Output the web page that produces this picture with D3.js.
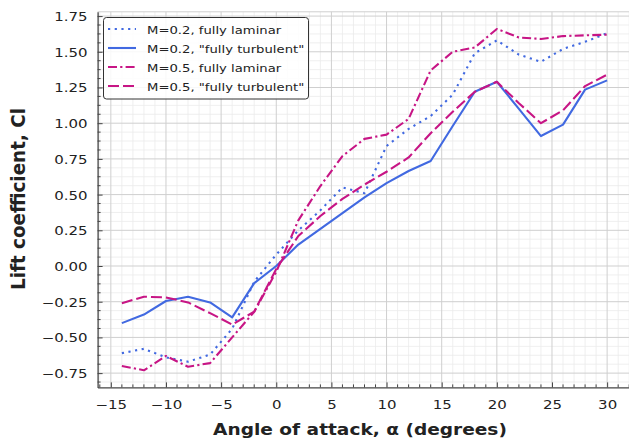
<!DOCTYPE html>
<html><head><meta charset="utf-8">
<script src="https://cdn.jsdelivr.net/npm/d3@7"></script>
<style>body{margin:0;background:#fff}svg{display:block}text{font-family:"DejaVu Sans",sans-serif}</style>
</head><body><svg id="c" width="629" height="442"></svg>
<script>
const alpha = [-14,-12,-10,-8,-6,-4,-2,0,2,4,6,8,10,12,14,16,18,20,22,24,26,28,30];
const m02Laminar   = [-0.61,-0.58,-0.64,-0.67,-0.62,-0.44,-0.11,0.08,0.25,0.39,0.55,0.51,0.84,0.96,1.05,1.20,1.49,1.58,1.48,1.43,1.52,1.57,1.63];
const m02Turbulent = [-0.40,-0.34,-0.245,-0.215,-0.255,-0.36,-0.12,0.00,0.15,0.26,0.37,0.48,0.58,0.665,0.735,0.98,1.22,1.29,1.10,0.91,0.99,1.235,1.30];
const m05Laminar   = [-0.70,-0.73,-0.63,-0.705,-0.68,-0.50,-0.32,-0.04,0.32,0.56,0.77,0.89,0.92,1.03,1.37,1.50,1.53,1.66,1.60,1.59,1.61,1.615,1.62];
const m05Turbulent = [-0.26,-0.215,-0.22,-0.255,-0.33,-0.41,-0.32,-0.02,0.21,0.35,0.47,0.57,0.66,0.76,0.93,1.08,1.22,1.29,1.14,1.00,1.09,1.26,1.34];
const seriesNames = ['M=0.2, fully laminar','M=0.2, "fully turbulent"','M=0.5, fully laminar','M=0.5, "fully turbulent"'];
const xTicks = [-15,-10,-5,0,5,10,15,20,25,30];
const yTicks = [-0.75,-0.5,-0.25,0,0.25,0.5,0.75,1.0,1.25,1.5,1.75];
const xLabel = 'Angle of attack, \u03b1 (degrees)';
const yLabel = 'Lift coefficient, Cl';

const series = [
  {name: seriesNames[0], values: m02Laminar,   color:'#4169e1', dash:'2.2,4.5'},
  {name: seriesNames[1], values: m02Turbulent, color:'#4169e1', dash:null},
  {name: seriesNames[2], values: m05Laminar,   color:'#c71585', dash:'9,3.2,2.2,3.2'},
  {name: seriesNames[3], values: m05Turbulent, color:'#c71585', dash:'11,4'}
];

const SQ = 0.81; // vertical squash of glyphs seen in the reference
const svg = d3.select('#c');
const L = 97.6, R = 631.4, T = 11.8, B = 387.4;
const x = d3.scaleLinear().domain([-16.2, 32.2]).range([L, R]);
const y = d3.scaleLinear().domain([-0.85, 1.78]).range([B, T]);

const g = svg.append('g');
const xMinor = d3.range(-16, 33, 1).filter(v => v % 5 !== 0);
const yMinor = d3.range(-0.8125, 1.8, 0.0625).filter(v => Math.abs(v/0.25 - Math.round(v/0.25)) > 1e-6);
g.append('g').selectAll('line').data(xMinor).join('line')
  .attr('x1', d => x(d)).attr('x2', d => x(d)).attr('y1', T).attr('y2', B)
  .attr('stroke', '#ebebeb').attr('stroke-width', 0.8);
g.append('g').selectAll('line').data(yMinor).join('line')
  .attr('y1', d => y(d)).attr('y2', d => y(d)).attr('x1', L).attr('x2', R)
  .attr('stroke', '#ebebeb').attr('stroke-width', 0.8);
g.append('g').selectAll('line').data(xTicks).join('line')
  .attr('x1', d => x(d)).attr('x2', d => x(d)).attr('y1', T).attr('y2', B)
  .attr('stroke', '#cfcfcf').attr('stroke-width', 1);
g.append('g').selectAll('line').data(yTicks).join('line')
  .attr('y1', d => y(d)).attr('y2', d => y(d)).attr('x1', L).attr('x2', R)
  .attr('stroke', '#cfcfcf').attr('stroke-width', 1);
g.append('line').attr('x1', L).attr('x2', R).attr('y1', T).attr('y2', T).attr('stroke', '#cfcfcf');

const line = d3.line().x((d, i) => x(alpha[i])).y(d => y(d));
series.forEach(s => {
  g.append('path').datum(s.values).attr('d', line)
    .attr('fill', 'none').attr('stroke', s.color).attr('stroke-width', 2.1)
    .attr('stroke-dasharray', s.dash).attr('stroke-linejoin', 'round');
});

const fmtY = d => d3.format('.2f')(d).replace('-', '\u2212');
const fmtX = d => String(d).replace('-', '\u2212');
const xAxis = d3.axisBottom(x).tickValues(xTicks).tickFormat(fmtX).tickSizeInner(-5).tickSizeOuter(0);
const yAxis = d3.axisLeft(y).tickValues(yTicks).tickFormat(fmtY).tickSizeInner(-5).tickSizeOuter(0);
const ax = svg.append('g').attr('transform', `translate(0,${B})`).call(xAxis);
const ay = svg.append('g').attr('transform', `translate(${L},0)`).call(yAxis);
ax.append('g').selectAll('line').data(xMinor).join('line')
  .attr('x1', d => x(d)).attr('x2', d => x(d)).attr('y1', 0).attr('y2', -3).attr('stroke', '#444');
ay.append('g').selectAll('line').data(yMinor).join('line')
  .attr('y1', d => y(d)).attr('y2', d => y(d)).attr('x1', 0).attr('x2', 3).attr('stroke', '#444');
[ax, ay].forEach(a => {
  a.select('.domain').attr('stroke', '#444').attr('stroke-width', 1.3);
  a.selectAll('.tick line').attr('stroke', '#444');
  a.selectAll('.tick text').attr('fill', '#222').style('font-size', '15px').style('font-family', '"DejaVu Sans"')
    .attr('x', 0).attr('y', 0).attr('dy', null);
});
ax.selectAll('.tick text').attr('text-anchor', 'middle').attr('transform', `translate(0,21.5) scale(1,${SQ})`);
ay.selectAll('.tick text').attr('text-anchor', 'end').attr('transform', `translate(-10,4.4) scale(1,${SQ})`);

// axis titles, fitted to the extent they occupy in the reference
const xt = svg.append('text').attr('text-anchor', 'middle')
  .style('font-size', '18.6px').style('font-weight', 'bold').attr('fill', '#222').text(xLabel);
const yt = svg.append('text').attr('text-anchor', 'middle')
  .style('font-size', '18.6px').style('font-weight', 'bold').attr('fill', '#222').text(yLabel);
const wx = xt.node().getComputedTextLength();
const wy = yt.node().getComputedTextLength();
const sxx = 294 / wx, syy = 182 / wy;
xt.attr('transform', `translate(360,435) scale(${sxx},${SQ})`);
yt.attr('transform', `translate(25,199) rotate(-90) scale(${syy},1)`);

const lg = svg.append('g');
lg.append('rect').attr('x', 103.5).attr('y', 17.5).attr('width', 205).attr('height', 81.5).attr('rx', 3)
  .attr('fill', 'rgba(255,255,255,0.85)').attr('stroke', '#333').attr('stroke-width', 1);
series.forEach((s, i) => {
  const yy = 29 + i * 19;
  lg.append('line').attr('x1', 108).attr('x2', 136).attr('y1', yy).attr('y2', yy)
    .attr('stroke', s.color).attr('stroke-width', 2.1).attr('stroke-dasharray', s.dash);
  lg.append('text').attr('transform', `translate(147,${yy + 4.6}) scale(1,${SQ})`)
    .style('font-size', '13.2px').attr('fill', '#222').text(s.name);
});
</script></body></html>
